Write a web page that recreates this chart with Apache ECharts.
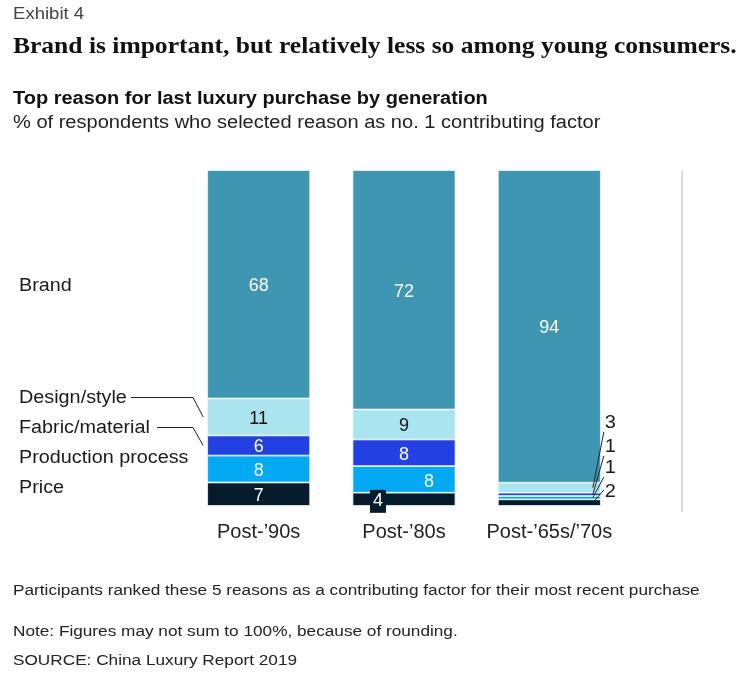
<!DOCTYPE html>
<html>
<head>
<meta charset="utf-8">
<style>
  html, body { margin: 0; padding: 0; background: #fff; }
  #chart { width: 740px; height: 679px; }
</style>
<script src="https://cdn.jsdelivr.net/npm/echarts@6/dist/echarts.min.js"></script>
</head>
<body>
<div id="chart"></div>
<script>
// Generations on the x axis
const categories = ['Post-\u201990s', 'Post-\u201980s', 'Post-\u201965s/\u201970s'];

// Share of respondents (%) naming each reason as the no. 1 factor
const brand      = [68, 72, 94];
const design     = [11, 9, 3];
const fabric     = [6, 8, 1];
const production = [8, 8, 1];
const price      = [7, 4, 2];

// Reason names, bottom of the stack first
const reasonNames = ['Price', 'Production process', 'Fabric/material', 'Design/style', 'Brand'];
const reasonValues = [price, production, fabric, design, brand];
const reasonColors = ['#061c2c', '#03a9f2', '#2340e2', '#aae4ee', '#3e96b3'];

const SANS = '"Liberation Sans", Arial, Helvetica, sans-serif';
const SERIF = '"Liberation Serif", "Times New Roman", serif';

// Each column is drawn as a 100% stack (rounded figures may add up to 101)
const totals = categories.map((_, i) => reasonValues.reduce((s, arr) => s + arr[i], 0));
const share = (arr) => arr.map((v, i) => v / totals[i] * 100);

// Label settings per reason and column
function labelFor(reasonIdx, colIdx) {
  const darkText = reasonIdx === 3;
  const base = {
    show: true,
    position: 'inside',
    fontFamily: SANS,
    fontSize: 18,
    color: darkText ? '#111' : '#fff',
    formatter: () => String(reasonValues[reasonIdx][colIdx])
  };
  if (colIdx === 2 && reasonIdx !== 4) {
    // tiny slices of the last column are labelled beside the bar
    return { show: false };
  }
  if (colIdx === 1 && reasonIdx === 0) {
    return Object.assign(base, {
      backgroundColor: '#061c2c',
      padding: [3, 3, 2, 3],
      offset: [-26, 2]
    });
  }
  if (colIdx === 1 && reasonIdx === 1) {
    return Object.assign(base, { offset: [25, 3] });
  }
  return Object.assign(base, { offset: [0, 2] });
}

const series = reasonNames.map((name, r) => ({
  name: name,
  type: 'bar',
  stack: 'total',
  barWidth: 103,
  itemStyle: { color: reasonColors[r], borderColor: '#eef8fb', borderWidth: 0.8 },
  emphasis: { disabled: true },
  data: share(reasonValues[r]).map((v, c) => ({ value: v, label: labelFor(r, c) }))
}));

const chart = echarts.init(document.getElementById('chart'));

chart.setOption({
  animation: false,
  backgroundColor: '#fff',
  grid: { left: 186, top: 170, width: 436, height: 336 },
  xAxis: {
    type: 'category',
    data: categories,
    axisLine: { show: false },
    axisTick: { show: false },
    axisLabel: { interval: 0, fontFamily: SANS, fontSize: 20, color: '#222', margin: 16 }
  },
  yAxis: { type: 'value', min: 0, max: 100, show: false },
  series: series
});

// Helpers to place annotations against the stacked bars
function segmentCenter(col, r) {
  let below = 0;
  for (let k = 0; k < r; k++) below += share(reasonValues[k])[col];
  const mid = below + share(reasonValues[r])[col] / 2;
  return chart.convertToPixel({ gridIndex: 0 }, [col, mid]);
}
const colCenter = (col) => chart.convertToPixel({ gridIndex: 0 }, [col, 0]);
const halfBar = 103 / 2;

const graphics = [];
const text = (x, y, str, style, sx) => graphics.push({
  type: 'text', x: x, y: y, silent: true, z: 100,
  scaleX: sx || 1.1,
  style: Object.assign({ text: str, fontFamily: SANS, fill: '#1a1a1a', textVerticalAlign: 'middle' }, style)
});
const line = (pts, color) => graphics.push({
  type: 'polyline', silent: true, z: 100,
  shape: { points: pts },
  style: { stroke: color || '#222', lineWidth: 1, fill: null }
});

// Headings
text(13, 15, 'Exhibit 4', { fontSize: 16, fill: '#444' }, 1.16);
text(13, 47, 'Brand is important, but relatively less so among young consumers.',
  { fontFamily: SERIF, fontWeight: 'bold', fontSize: 23, fill: '#111' }, 1.11);
text(13, 99, 'Top reason for last luxury purchase by generation',
  { fontSize: 18, fontWeight: 'bold', fill: '#111' }, 1.11);
text(13, 123, '% of respondents who selected reason as no. 1 contributing factor',
  { fontSize: 18, fill: '#222' }, 1.114);

// Footnotes
text(13, 591, 'Participants ranked these 5 reasons as a contributing factor for their most recent purchase',
  { fontSize: 15.5, fill: '#222' }, 1.11);
text(13, 632, 'Note: Figures may not sum to 100%, because of rounding.', { fontSize: 15.5, fill: '#222' }, 1.11);
text(13, 661, 'SOURCE: China Luxury Report 2019', { fontSize: 15.5, fill: '#222' }, 1.11);

// Reason names on the left
const firstLeft = colCenter(0)[0] - halfBar;
text(19, segmentCenter(0, 4)[1] + 2, 'Brand', { fontSize: 18 }, 1.1);
text(19, 398, 'Design/style', { fontSize: 18 }, 1.1);
text(19, 428, 'Fabric/material', { fontSize: 18 }, 1.1);
text(19, 458, 'Production process', { fontSize: 18 }, 1.1);
text(19, 488, 'Price', { fontSize: 18 }, 1.1);
line([[131, 397.5], [193, 397.5], [firstLeft - 4, segmentCenter(0, 3)[1]]]);
line([[157, 427.5], [193, 427.5], [firstLeft - 4, segmentCenter(0, 2)[1]]]);

// Outside labels for the thin slices of the last column
const lastRight = colCenter(2)[0] + halfBar;
const baseY = colCenter(2)[1];
const outside = [
  { r: 3, dy: -83 },
  { r: 2, dy: -59 },
  { r: 1, dy: -38 },
  { r: 0, dy: -14 }
];
outside.forEach((o, i) => {
  const y = baseY + o.dy;
  text(lastRight + 4, y, String(reasonValues[o.r][2]), { fontSize: 19 }, 1.05);
  const seg = segmentCenter(2, o.r);
  const startY = i === 3 ? y - 2 : y + 9;
  line([[lastRight + 3, startY], [lastRight - 8, seg[1]]]);
});

// Divider on the right
graphics.push({
  type: 'line', silent: true,
  shape: { x1: 682, y1: 170, x2: 682, y2: 512 },
  style: { stroke: '#dddddd', lineWidth: 2 }
});

chart.setOption({ graphic: graphics });
</script>
</body>
</html>
